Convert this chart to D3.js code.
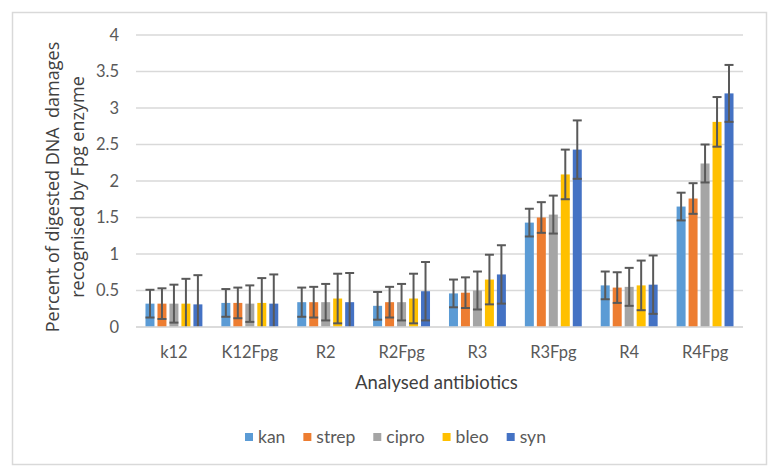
<!DOCTYPE html>
<html><head><meta charset="utf-8">
<script src="https://cdn.jsdelivr.net/npm/d3@7"></script>
<style>body{margin:0;background:#fff;} svg{display:block;}</style>
</head><body>
<svg id="c" width="778" height="476"></svg>
<script>
const categories = ["k12","K12Fpg","R2","R2Fpg","R3","R3Fpg","R4","R4Fpg"];
const seriesNames = ["kan","strep","cipro","bleo","syn"];
const seriesColors = ["#5B9BD5","#ED7D31","#A5A5A5","#FFC000","#4472C4"];
const kan   = [0.32,0.33,0.34,0.29,0.46,1.43,0.57,1.65];
const strep = [0.32,0.33,0.34,0.34,0.47,1.50,0.54,1.76];
const cipro = [0.32,0.32,0.34,0.34,0.50,1.54,0.55,2.24];
const bleo  = [0.32,0.33,0.39,0.39,0.65,2.09,0.57,2.81];
const syn   = [0.31,0.32,0.34,0.49,0.72,2.43,0.58,3.20];
const kanErr   = [0.19,0.19,0.20,0.19,0.19,0.19,0.19,0.19];
const strepErr = [0.21,0.21,0.21,0.21,0.21,0.21,0.21,0.21];
const ciproErr = [0.26,0.25,0.25,0.25,0.26,0.26,0.26,0.26];
const bleoErr  = [0.34,0.34,0.34,0.34,0.34,0.34,0.34,0.34];
const synErr   = [0.40,0.40,0.40,0.40,0.40,0.40,0.40,0.39];
const yTicks = [0,0.5,1,1.5,2,2.5,3,3.5,4];

const values = [kan,strep,cipro,bleo,syn];
const errs = [kanErr,strepErr,ciproErr,bleoErr,synErr];

const svg = d3.select("#c");
svg.append("rect").attr("x",12.5).attr("y",12.5).attr("width",754).attr("height",452)
  .attr("fill","#fff").attr("stroke","#d9d9d9").attr("stroke-width",1.5);

const L=136, R=743, T=35, B=327;
const x0 = d3.scaleBand().domain(categories).range([L,R]).paddingInner(0.25).paddingOuter(0.125);
const x1 = d3.scaleBand().domain(seriesNames).range([0,x0.bandwidth()]).paddingInner(0.25);
const y = d3.scaleLinear().domain([0,4]).range([B,T]);
const font = "Lato, 'Open Sans', sans-serif";

// gridlines
svg.append("g").selectAll("line").data(yTicks).join("line")
  .attr("x1",L).attr("x2",R).attr("y1",d=>y(d)).attr("y2",d=>y(d))
  .attr("stroke","#d9d9d9").attr("stroke-width",1.3);

// y axis labels
const yAxis = d3.axisLeft(y).tickValues(yTicks).tickSize(0).tickPadding(0).tickFormat(d=>String(d));
const ya = svg.append("g").attr("transform",`translate(119,0)`).call(yAxis);
ya.select(".domain").remove();
ya.selectAll("text").attr("fill","#595959").style("font-family",font).style("font-size","16.5px");

// bars
const groups = svg.append("g").selectAll("g").data(categories).join("g")
  .attr("transform",d=>`translate(${x0(d)},0)`);
seriesNames.forEach((s,si)=>{
  groups.append("rect")
    .attr("x",x1(s)).attr("width",x1.bandwidth())
    .attr("y",(d,ci)=>y(values[si][ci])).attr("height",(d,ci)=>y(0)-y(values[si][ci]))
    .attr("fill",seriesColors[si]);
});
// error bars
seriesNames.forEach((s,si)=>{
  const cx = x1(s)+x1.bandwidth()/2, hw = x1.bandwidth()/2;
  groups.each(function(d,ci){
    const v = values[si][ci], e = errs[si][ci];
    const hi = y(v+e), lo = y(Math.max(0,v-e));
    const g = d3.select(this).append("g").attr("stroke","#595959").attr("stroke-width",2);
    g.append("line").attr("x1",cx).attr("x2",cx).attr("y1",hi).attr("y2",lo);
    g.append("line").attr("x1",cx-hw).attr("x2",cx+hw).attr("y1",hi).attr("y2",hi);
    if (v-e>0) g.append("line").attr("x1",cx-hw).attr("x2",cx+hw).attr("y1",lo).attr("y2",lo);
  });
});

// x axis line
svg.append("line").attr("x1",L).attr("x2",R).attr("y1",B).attr("y2",B).attr("stroke","#d9d9d9").attr("stroke-width",1.3);
const xAxis = d3.axisBottom(x0).tickSize(0).tickPadding(0);
const xa = svg.append("g").attr("transform",`translate(0,${B})`).call(xAxis);
xa.select(".domain").remove();
xa.selectAll("text").attr("fill","#595959").attr("dy",0).attr("y",31).style("font-family",font).style("font-size","16.5px");

// axis titles
svg.append("text").attr("x",(L+R)/2-3).attr("y",389).attr("text-anchor","middle")
  .attr("fill","#404040").style("font-family",font).style("font-size","18.5px").text("Analysed antibiotics");
const yt = svg.append("text").attr("transform","translate(0,187) rotate(-90)").attr("text-anchor","middle")
  .attr("fill","#404040").style("font-family","'Open Sans', sans-serif").style("font-size","18px");
yt.append("tspan").attr("x",0).attr("y",59).attr("xml:space","preserve").style("white-space","pre").text("Percent of digested DNA  damages");
yt.append("tspan").attr("x",0).attr("y",84).text("recognised by Fpg enzyme");

// legend
const lg = svg.append("g").attr("transform","translate(0,437)");
let lx = 245;
seriesNames.forEach((s,si)=>{
  lg.append("rect").attr("x",lx).attr("y",-4).attr("width",8).attr("height",8).attr("fill",seriesColors[si]);
  const t = lg.append("text").attr("x",lx+13).attr("y",6).attr("fill","#595959")
    .style("font-family",font).style("font-size","17.5px").text(s);
  lx += 13 + t.node().getComputedTextLength() + 18;
});
</script>
</body></html>
